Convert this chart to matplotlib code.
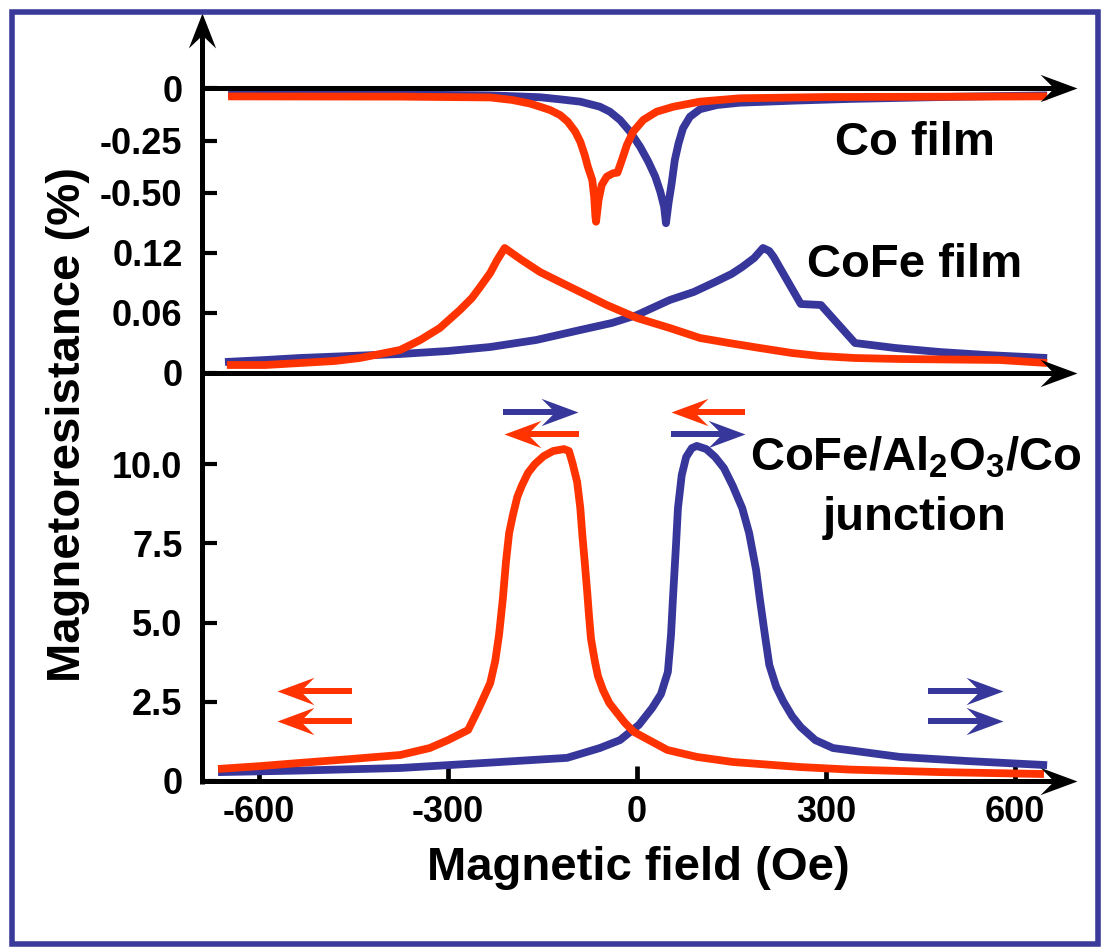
import numpy as np
import matplotlib
matplotlib.use("Agg")
import matplotlib.pyplot as plt
from matplotlib.path import Path
from matplotlib.patches import Rectangle

# ---------------- data (field in Oe, magnetoresistance in %) ----------------
# Co film
co_field_blue = [-649, -376, -233, -154, -122, -90, -59, -43, -27, -11, 5, 18,
                 29, 37, 43, 46, 50, 55, 60, 66, 73, 84, 100, 127, 163, 250,
                 338, 500, 651]
co_mr_blue = [-0.030, -0.031, -0.035, -0.044, -0.054, -0.065, -0.089, -0.113,
              -0.152, -0.208, -0.280, -0.351, -0.422, -0.494, -0.565, -0.644,
              -0.549, -0.454, -0.343, -0.263, -0.192, -0.137, -0.101, -0.081,
              -0.070, -0.060, -0.052, -0.042, -0.035]
co_field_red = [-649, -376, -233, -198, -170, -154, -138, -122, -110, -98, -90,
                -83, -78, -71, -68, -66, -65, -61, -56, -48, -38, -31, -24,
                -16, -6, 10, 31, 58, 100, 163, 300, 651]
co_mr_red = [-0.040, -0.041, -0.045, -0.057, -0.074, -0.089, -0.105, -0.129,
             -0.160, -0.208, -0.256, -0.319, -0.375, -0.438, -0.518, -0.613,
             -0.637, -0.533, -0.462, -0.422, -0.406, -0.403, -0.343, -0.271,
             -0.208, -0.152, -0.113, -0.089, -0.065, -0.049, -0.043, -0.040]

# CoFe film
cofe_field_blue = [-654, -590, -535, -456, -376, -300, -233, -160, -90, -40, 0,
                   52, 90, 124, 150, 167, 186, 200, 210, 217, 238, 260, 292,
                   346, 410, 480, 554, 651]
cofe_mr_blue = [0.011, 0.013, 0.015, 0.017, 0.019, 0.022, 0.026, 0.033, 0.043,
                0.050, 0.058, 0.073, 0.081, 0.091, 0.099, 0.106, 0.115, 0.125,
                0.122, 0.116, 0.093, 0.069, 0.068, 0.030, 0.025, 0.021, 0.018,
                0.015]
cofe_field_red = [-651, -590, -535, -480, -440, -408, -376, -344, -313, -281,
                  -262, -249, -233, -222, -210, -183, -154, -119, -90, -48, 0,
                  52, 100, 146, 195, 246, 290, 346, 417, 576, 651]
cofe_mr_red = [0.008, 0.008, 0.010, 0.012, 0.015, 0.019, 0.023, 0.033, 0.045,
               0.063, 0.075, 0.086, 0.100, 0.113, 0.125, 0.113, 0.101, 0.090,
               0.081, 0.068, 0.055, 0.045, 0.035, 0.030, 0.025, 0.020, 0.017,
               0.015, 0.014, 0.013, 0.010]

# CoFe/Al2O3/Co junction
mtj_field_blue = [-665, -535, -376, -217, -111, -59, -27, 3, 24, 38, 49, 54,
                  57, 62, 65, 71, 78, 87, 95, 110, 124, 138, 152, 167, 178, 189,
                  195, 203, 210, 221, 232, 246, 260, 283, 311, 417, 524, 651]
mtj_mr_blue = [0.28, 0.33, 0.41, 0.60, 0.73, 1.04, 1.29, 1.77, 2.30, 2.74,
               3.44, 4.61, 5.74, 7.48, 8.61, 9.65, 10.22, 10.50, 10.57, 10.47,
               10.22, 9.87, 9.31, 8.61, 7.82, 6.66, 5.74, 4.61, 3.66, 2.97,
               2.52, 2.05, 1.70, 1.29, 1.04, 0.76, 0.63, 0.50]
mtj_field_red = [-665, -598, -535, -456, -376, -329, -300, -268, -251, -233,
                 -225, -219, -213, -208, -203, -197, -190, -183, -173, -162,
                 -148, -133, -116, -108, -102, -95, -90, -87, -83, -79, -76,
                 -73, -67, -62, -54, -44, -33, -19, -5, 48, 95, 152, 259, 338,
                 483, 646]
mtj_mr_red = [0.38, 0.47, 0.57, 0.69, 0.82, 1.04, 1.29, 1.61, 2.30, 3.09, 3.79,
              4.61, 5.74, 6.91, 7.82, 8.39, 8.96, 9.31, 9.72, 10.00, 10.25,
              10.41, 10.47, 10.41, 10.00, 9.43, 8.61, 7.82, 6.91, 5.96, 5.17,
              4.48, 3.79, 3.31, 2.87, 2.46, 2.18, 1.83, 1.55, 0.98, 0.76, 0.60,
              0.44, 0.36, 0.28, 0.22]

# tick positions and labels
x_ticks = [-600, -300, 0, 300, 600]
x_tick_labels = ["-600", "-300", "0", "300", "600"]
co_ticks = [0, -0.25, -0.50]
co_tick_labels = ["0", "-0.25", "-0.50"]
cofe_ticks = [0, 0.06, 0.12]
cofe_tick_labels = ["0", "0.06", "0.12"]
mtj_ticks = [0, 2.5, 5.0, 7.5, 10.0]
mtj_tick_labels = ["0", "2.5", "5.0", "7.5", "10.0"]

# ---------------- style ----------------
BLUE = "#36369b"
RED = "#ff3300"
FRAME = "#3a3a9a"

plt.rcParams.update({
    "font.family": ["Liberation Sans", "DejaVu Sans"],
    "font.weight": "bold",
    "axes.labelweight": "bold",
    "mathtext.fontset": "custom",
    "mathtext.rm": "Liberation Sans:bold",
    "mathtext.it": "Liberation Sans:bold",
    "mathtext.bf": "Liberation Sans:bold",
    "mathtext.default": "bf",
})

W, H = 1105, 952
fig = plt.figure(figsize=(W / 100, H / 100), dpi=100)

# frame of the plotting region in pixels (measured from the top-left corner)
LEFT_PX, RIGHT_PX, TOP_PX, BOTTOM_PX = 202, 1090, 5, 800
ZERO_FIELD_PX = 637
PX_PER_OE = 0.63

xlim = ((LEFT_PX - ZERO_FIELD_PX) / PX_PER_OE,
        (RIGHT_PX - ZERO_FIELD_PX) / PX_PER_OE)
rect = [LEFT_PX / W, 1 - BOTTOM_PX / H,
        (RIGHT_PX - LEFT_PX) / W, (BOTTOM_PX - TOP_PX) / H]


def ylim_for(zero_px, px_per_unit):
    return ((zero_px - BOTTOM_PX) / px_per_unit, (zero_px - TOP_PX) / px_per_unit)


def head_marker(direction, length=1.0, half_width=0.37, notch=0.63):
    """Stealth-type arrow head with its tip at the origin."""
    verts = np.array([(0, 0), (-length, half_width), (-notch, 0),
                      (-length, -half_width), (0, 0)], float)
    if direction == "left":
        verts[:, 0] *= -1
    elif direction == "up":
        verts = np.column_stack([-verts[:, 1], verts[:, 0]])
    codes = [Path.MOVETO, Path.LINETO, Path.LINETO, Path.LINETO, Path.CLOSEPOLY]
    return Path(verts, codes)


HEAD_RIGHT = head_marker("right")
HEAD_LEFT = head_marker("left")
HEAD_UP = head_marker("up", half_width=0.39)


def px_to_ms(length_px):
    # a unit-length head drawn with markersize ms spans ms/2 points
    return 2 * length_px * 72 / 100


TICK_SIZE = 26


def make_panel(zero_px, px_per_unit):
    ax = fig.add_axes(rect)
    ax.set_xlim(*xlim)
    ax.set_ylim(*ylim_for(zero_px, px_per_unit))
    ax.patch.set_visible(False)
    for s in ax.spines.values():
        s.set_visible(False)
    ax.tick_params(axis="y", direction="in", length=10.5, width=3.0, pad=14,
                   labelsize=TICK_SIZE, color="black")
    ax.tick_params(axis="x", bottom=False, labelbottom=False)
    return ax


ax_mtj = make_panel(781, 31.7)
ax_cofe = make_panel(373, 1000.0)
ax_co = make_panel(88, 210.0)

AXIS_LW = 3.6
CURVE_LW = 5.6
HEAD_LEN = 37
arrow_tip = (1077 - ZERO_FIELD_PX) / PX_PER_OE
neck = arrow_tip - 0.6 * HEAD_LEN / PX_PER_OE


def baseline_arrow(ax):
    ax.plot([xlim[0], neck], [0, 0], color="black", lw=AXIS_LW,
            solid_capstyle="butt", clip_on=False, zorder=6)
    ax.plot([arrow_tip], [0], marker=HEAD_RIGHT, ms=px_to_ms(HEAD_LEN),
            color="black", mew=0, ls="none", clip_on=False, zorder=6)


# curves
for ax, fb, mb, fr, mr in [
        (ax_co, co_field_blue, co_mr_blue, co_field_red, co_mr_red),
        (ax_cofe, cofe_field_blue, cofe_mr_blue, cofe_field_red, cofe_mr_red),
        (ax_mtj, mtj_field_blue, mtj_mr_blue, mtj_field_red, mtj_mr_red)]:
    ax.plot(fb, mb, color=BLUE, lw=CURVE_LW, solid_joinstyle="round",
            solid_capstyle="butt", zorder=3, clip_on=False)
    ax.plot(fr, mr, color=RED, lw=CURVE_LW, solid_joinstyle="round",
            solid_capstyle="butt", zorder=4, clip_on=False)
    baseline_arrow(ax)

ax_co.set_yticks(co_ticks, co_tick_labels)
ax_cofe.set_yticks(cofe_ticks, cofe_tick_labels)
ax_mtj.set_yticks(mtj_ticks, mtj_tick_labels)

# field axis with ticks on the junction baseline
ax_mtj.spines["bottom"].set_position(("data", 0))
ax_mtj.tick_params(axis="x", bottom=True, labelbottom=True, direction="in",
                   length=10.5, width=3.4, pad=10, labelsize=TICK_SIZE,
                   color="black")
ax_mtj.set_xticks(x_ticks, x_tick_labels)

# vertical axis with arrow head
y_bottom = (781 - 784) / 31.7
y_tip = (781 - 13) / 31.7
y_neck = y_tip - 0.6 * 35 / 31.7
ax_mtj.plot([xlim[0], xlim[0]], [y_bottom, y_neck], color="black",
            lw=AXIS_LW, solid_capstyle="butt", clip_on=False, zorder=6)
ax_mtj.plot([xlim[0]], [y_tip], marker=HEAD_UP, ms=px_to_ms(35), color="black",
            mew=0, ls="none", clip_on=False, zorder=6)

ax_mtj.set_xlabel("Magnetic field (Oe)", fontsize=34)
ax_mtj.xaxis.set_label_coords(0.491, -0.058)
ax_mtj.set_ylabel("Magnetoresistance (%)", fontsize=34)
ax_mtj.yaxis.set_label_coords(-0.126, 0.472)

# sample labels
ax_co.text(441, -0.319, "Co film", ha="center", va="baseline", fontsize=34)
ax_cofe.text(441, 0.096, "CoFe film", ha="center", va="baseline", fontsize=34)
ax_mtj.text(443, 9.78, "CoFe/Al$_2$O$_3$/Co", ha="center", va="baseline",
            fontsize=34)
ax_mtj.text(441, 7.92, "junction", ha="center", va="baseline", fontsize=34)

# magnetization direction arrows of the two layers
moments = [
    (-213, -94, 11.64, BLUE), (-92, -211, 10.95, RED),
    (171, 54, 11.64, RED), (54, 171, 10.95, BLUE),
    (-452, -571, 2.84, RED), (-452, -571, 1.89, RED),
    (462, 581, 2.84, BLUE), (462, 581, 1.89, BLUE),
]
MOMENT_HEAD = 37
for x_tail, x_tip, y, col in moments:
    d = np.sign(x_tip - x_tail)
    x_neck = x_tip - d * 0.6 * MOMENT_HEAD / PX_PER_OE
    ax_mtj.plot([x_tail, x_neck], [y, y], color=col, lw=4.3,
                solid_capstyle="butt", zorder=5)
    ax_mtj.plot([x_tip], [y], marker=HEAD_RIGHT if d > 0 else HEAD_LEFT,
                ms=px_to_ms(MOMENT_HEAD), color=col, mew=0, ls="none", zorder=5)

# outer frame
fig.add_artist(Rectangle((11.5 / W, 1 - 943.5 / H), (1097.5 - 11.5) / W,
                         (943.5 - 11.5) / H, transform=fig.transFigure,
                         fill=False, ec=FRAME, lw=4))

fig.savefig("out.png", dpi=100)
